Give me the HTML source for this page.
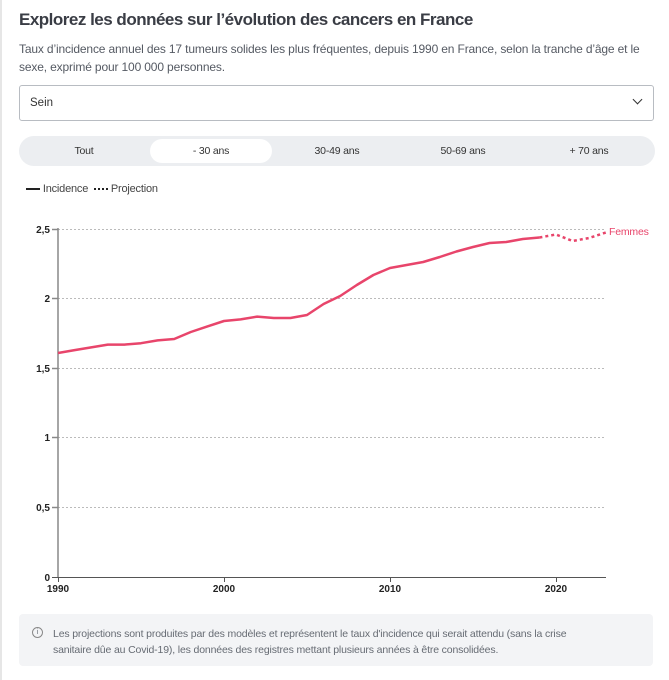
<!DOCTYPE html>
<html><head><meta charset="utf-8"><style>
body{margin:0;width:669px;height:680px;background:#fff;font-family:"Liberation Sans",sans-serif;position:relative;overflow:hidden;color:#2b2f36}
.lb{position:absolute;left:0;top:0;bottom:0;width:2px;background:#e6e6e6}
h1{position:absolute;left:19px;top:10px;margin:0;font-size:17px;font-weight:bold;color:#3a3d45;letter-spacing:-0.5px}
.sub{position:absolute;left:19px;top:40px;font-size:12px;line-height:18px;color:#555a63;letter-spacing:-0.15px;white-space:nowrap}
.sel{position:absolute;left:19px;top:85px;width:633px;height:34px;border:1px solid #b8bcc2;border-radius:3px;font-size:11.5px;color:#333}
.sel span{position:absolute;left:10px;top:11px}
.sel i{position:absolute;right:12px;top:10px;width:6px;height:6px;border-right:1.5px solid #333;border-bottom:1.5px solid #333;transform:rotate(45deg)}
.tabs{position:absolute;left:19px;top:136px;width:636px;height:30px;background:#eceef1;border-radius:15px;font-size:10.5px;color:#333;letter-spacing:-0.2px}
.tabs div{position:absolute;top:9px;transform:translateX(-50%)}
.act{position:absolute;left:131px;top:3px;width:122px;height:24px;background:#fff;border-radius:12px}
.leg{position:absolute;left:26px;top:183px;font-size:11px;color:#444;letter-spacing:-0.2px}
.note{position:absolute;left:19px;top:614px;width:634px;height:52px;background:#f3f4f6;border-radius:4px;font-size:10.5px;line-height:16px;color:#666b73;letter-spacing:-0.15px}
.note p{margin:0;position:absolute;left:34px;top:12px;white-space:nowrap}
.note b{position:absolute;left:13px;top:13px;width:9px;height:9px;border:1px solid #888;border-radius:50%;font-size:7px;line-height:9px;text-align:center;font-weight:normal}
</style></head><body>
<div class="lb"></div>
<h1>Explorez les données sur l’évolution des cancers en France</h1>
<div class="sub">Taux d’incidence annuel des 17 tumeurs solides les plus fréquentes, depuis 1990 en France, selon la tranche d’âge et le<br>sexe, exprimé pour 100 000 personnes.</div>
<div class="sel"><span>Sein</span><i></i></div>
<div class="tabs"><div class="act" style="transform:none;top:3px"></div>
<div style="left:65px">Tout</div><div style="left:192px">- 30 ans</div><div style="left:318px">30-49 ans</div><div style="left:444px">50-69 ans</div><div style="left:570px">+ 70 ans</div></div>
<div class="leg"><span style="display:inline-block;width:14px;height:2px;background:#222;vertical-align:middle"></span> Incidence <span style="display:inline-block;width:14px;border-top:2px dotted #222;vertical-align:middle;margin-left:3px"></span> Projection</div>
<svg style="position:absolute;left:0;top:0" width="669" height="680">
<g stroke="#bbb" stroke-width="1" stroke-dasharray="2,2">
<line x1="58" y1="229.5" x2="606" y2="229.5"/><line x1="58" y1="298.5" x2="606" y2="298.5"/><line x1="58" y1="368.5" x2="606" y2="368.5"/><line x1="58" y1="437.5" x2="606" y2="437.5"/><line x1="58" y1="507.5" x2="606" y2="507.5"/></g>
<g stroke="#888" stroke-width="1.5"><line x1="58" y1="228" x2="58" y2="578"/><line x1="52" y1="229.5" x2="58" y2="229.5"/><line x1="52" y1="298.5" x2="58" y2="298.5"/><line x1="52" y1="368.5" x2="58" y2="368.5"/><line x1="52" y1="437.5" x2="58" y2="437.5"/><line x1="52" y1="507.5" x2="58" y2="507.5"/></g>
<g stroke="#555" stroke-width="1"><line x1="52" y1="577.5" x2="606" y2="577.5"/><line x1="58.5" y1="577" x2="58.5" y2="582"/><line x1="224.5" y1="577" x2="224.5" y2="582"/><line x1="390.5" y1="577" x2="390.5" y2="582"/><line x1="556.5" y1="577" x2="556.5" y2="582"/></g>
<g font-size="10" font-weight="bold" fill="#222" text-anchor="end"><text x="50" y="233">2,5</text><text x="50" y="302">2</text><text x="50" y="372">1,5</text><text x="50" y="441">1</text><text x="50" y="511">0,5</text><text x="50" y="581">0</text></g>
<g font-size="10" font-weight="bold" fill="#222" text-anchor="middle"><text x="58" y="592">1990</text><text x="224" y="592">2000</text><text x="390" y="592">2010</text><text x="556" y="592">2020</text></g>
<polyline fill="none" stroke="#e8456b" stroke-width="2.5" stroke-linejoin="round" points="58,353 74.6,350.1 91.2,347.4 107.8,344.6 124.4,344.6 141,343.2 157.6,340.4 174.2,339 190.8,332 207.4,326.4 224,321 240.6,319.4 257.2,316.6 273.8,318 290.4,318 307,315 323.6,304 340.2,296 356.8,285 373.4,275 390,268 406.6,265 423.2,262 439.8,257 456.4,251.5 473,247 489.6,243 506.2,242 522.8,239 539.4,237.5"/>
<polyline fill="none" stroke="#e8456b" stroke-width="2.5" stroke-dasharray="3,3" points="539.4,237.5 556,234.5 572.6,241 589.2,238 605.8,232.5"/>
<text x="609" y="235" font-size="10.5" fill="#e8456b" letter-spacing="-0.2">Femmes</text>
</svg>
<div class="note"><b>i</b><p>Les projections sont produites par des modèles et représentent le taux d'incidence qui serait attendu (sans la crise<br>sanitaire dûe au Covid-19), les données des registres mettant plusieurs années à être consolidées.</p></div>
</body></html>
